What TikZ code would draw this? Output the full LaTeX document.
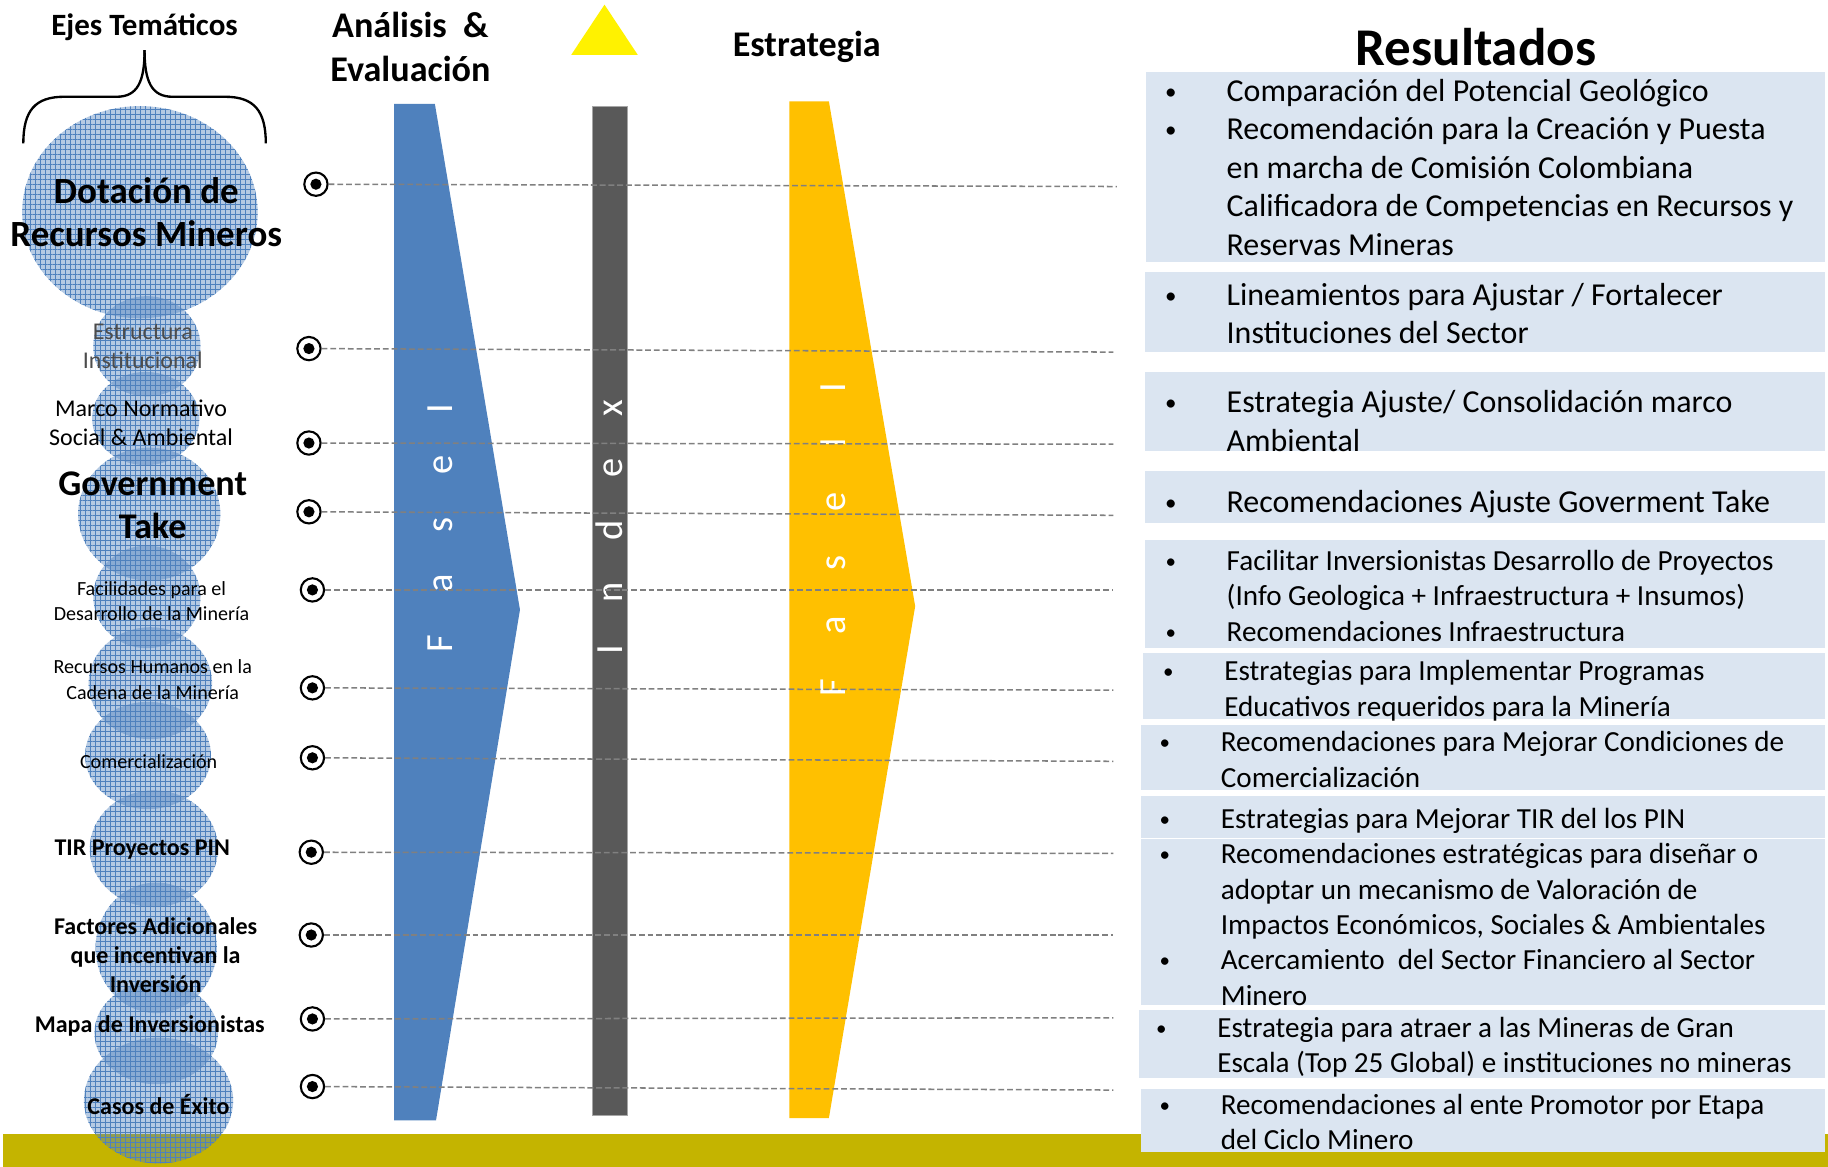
\documentclass[tikz,border=0pt]{standalone}
\usepackage{fontspec}
\setmainfont{Carlito}
\usetikzlibrary{patterns.meta}
\definecolor{cblue}{HTML}{4F81BD}
\definecolor{cgold}{HTML}{FFC000}
\definecolor{cdark}{HTML}{595959}
\definecolor{cbox}{HTML}{DBE5F1}
\definecolor{colive}{HTML}{C4B400}
\definecolor{cdash}{HTML}{808080}
\newcommand\fs[2]{\fontsize{#1}{#2}\selectfont}
\newcommand\bul{\makebox[0pt]{\raisebox{0.07em}{\scalebox{0.72}{•}}}}
\newcommand\restab[1]{\begin{tabular}[t]{@{}l@{\hspace{48pt}}l@{}}#1\end{tabular}}
\begin{document}
\begin{tikzpicture}[x=1pt,y=-1pt,
 bubble/.style={fill=cblue, fill opacity=0.42,
   postaction={pattern={Hatch[angle=0,distance=4.3pt,line width=0.5pt]}, pattern color=cblue, fill opacity=0.35}},
 lab/.style={inner sep=0pt, align=center, text=black},
 hdr/.style={inner sep=0pt, align=center, font=\bfseries},
 phase/.style={inner sep=0pt, text=white, rotate=90, font={\fs{33}{40}}},
 marker/.style={circle, draw=black, line width=1.8pt, fill=white, minimum size=20pt, inner sep=0pt,
   path picture={\fill[black] (path picture bounding box.center) circle[radius=4.8pt];}},
 dline/.style={draw=cdash, line width=1.3pt, dash pattern=on 5pt off 2.5pt},
 res/.style={anchor=base west, inner sep=0pt},
 rbox/.style={fill=cbox}
]
\useasboundingbox (0,0) rectangle (1568,1001);
\fill[white] (0,0) rectangle (1568,1001);
% bottom bar
\fill[colive] (3,973) rectangle (1568,1001);

% bubbles
\path[bubble] (120,182) ellipse [x radius=101, y radius=91];
\path[bubble] (126,297) ellipse [x radius=46, y radius=43];
\path[bubble] (125,359) ellipse [x radius=46, y radius=40];
\path[bubble] (128,441) ellipse [x radius=61, y radius=57];
\path[bubble] (126,512) ellipse [x radius=46, y radius=44];
\path[bubble] (129,586) ellipse [x radius=53, y radius=48];
\path[bubble] (127,648) ellipse [x radius=54, y radius=46];
\path[bubble] (132,728) ellipse [x radius=55, y radius=50];
\path[bubble] (134,813) ellipse [x radius=52, y radius=56];
\path[bubble] (134,886) ellipse [x radius=53, y radius=44];
\path[bubble] (136,944) ellipse [x radius=64, y radius=54];

% brace
\draw[line width=2pt] (20,123) .. controls (20,95) and (30,83) .. (55,83) -- (100,83) .. controls (118,83) and (124,70) .. (124,43);
\draw[line width=2pt] (228,123) .. controls (228,95) and (218,83) .. (193,83) -- (148,83) .. controls (130,83) and (124,70) .. (124,43);

% left labels
\node[lab, font={\bfseries\fs{26.6}{32}}] (ejes) at (124,23) {Ejes Temáticos};
\node[lab, font={\bfseries\fs{31.7}{37}}] (dot) at (125.5,182) {Dotación de\\Recursos Mineros};
\node[lab, text=black!70, font={\fs{20.6}{25}}] (estr) at (122.5,297) {Estructura\\Institucional};
\node[lab, font={\fs{20.6}{25}}] (marco) at (121,363) {Marco Normativo\\Social \& Ambiental};
\node[lab, font={\bfseries\fs{31}{37}}] (gov) at (131,433.5) {Government\\Take};
\node[lab, font={\fs{17.2}{21}}] (fac) at (130,515.5) {Facilidades para el\\Desarrollo de la Minería};
\node[lab, font={\fs{17.2}{22}}] (rh) at (131,583) {Recursos Humanos en la\\Cadena de la Minería};
\node[lab, font={\fs{17.2}{21}}] (com) at (127.5,653) {Comercialización};
\node[lab, font={\bfseries\fs{20.6}{25}}] (tir) at (122,729) {TIR Proyectos PIN};
\node[lab, font={\bfseries\fs{20.6}{25}}] (fact) at (133.5,819) {Factores Adicionales\\que incentivan la\\Inversión};
\node[lab, font={\bfseries\fs{20.6}{25}}] (mapa) at (128.5,880) {Mapa de Inversionistas};
\node[lab, font={\bfseries\fs{20.6}{25}}] (casos) at (136,947) {Casos de Éxito};

% headers
\node[hdr, font={\bfseries\fs{31}{38}}] (anal) at (352,40) {Análisis\ \ \&\\Evaluación};
\fill[yellow] (490,47) -- (547,47) -- (518.5,4) -- cycle;
\node[hdr, font={\bfseries\fs{31}{38}}] (estrat) at (692,40) {Estrategia};
\node[hdr, font={\bfseries\fs{45.5}{50}}] (resul) at (1266,40) {Resultados};

% phases
\fill[cblue] (338,89) -- (373,89) -- (446,523) -- (374,961) -- (338,961) -- cycle;
\fill[cgold] (677,87) -- (711,87) -- (785,520) -- (711,959) -- (677,959) -- cycle;
\filldraw[fill=cdark, draw=black!35, line width=1pt] (508,91) rectangle (538,957);
\node[phase] (f1) at (378,453) {\makebox[214pt][s]{F a s e I}};
\node[phase] (idx) at (523,452) {\makebox[218pt][s]{I n d e x}};
\node[phase] (f2) at (715,463) {\makebox[269pt][s]{F a s e I I}};

% markers and dashed lines
\foreach \i/\mx/\my/\ex/\ey in {1/271/158/958/160, 2/265/299/955/302, 3/265/380/955/381,
  4/265/439/955/442, 5/268/506/955/506, 6/268/590/955/592, 7/268/650/955/653,
  8/267/731/955/732, 9/267/802/955/802, 10/268/874/955/873, 11/268/932/955/935}{
  \node[marker] (m\i) at (\mx,\my) {};
  \coordinate (e\i) at (\ex,\ey);
  \draw[dline] (m\i) -- (e\i);
}

% result boxes
\fill[rbox] (983,62) rectangle (1565,225);
\fill[rbox] (982,233) rectangle (1565,302);
\fill[rbox] (982,319) rectangle (1565,387);
\fill[rbox] (982,404) rectangle (1565,449);
\fill[rbox] (982,463) rectangle (1565,556);
\fill[rbox] (980,560) rectangle (1565,617);
\fill[rbox] (979,622) rectangle (1565,678);
\fill[rbox] (979,683) rectangle (1565,719);
\fill[rbox] (979,720) rectangle (1565,862);
\fill[rbox] (977,866) rectangle (1565,925);
\fill[rbox] (979,934) rectangle (1565,988);

\node[res] (r1) at (1004,87) {\fs{27.4}{33}\restab{%
 \bul & Comparación del Potencial Geológico\\
 \bul & Recomendación para la Creación y Puesta\\
  & en marcha de Comisión Colombiana\\
  & Calificadora de Competencias en Recursos y\\
  & Reservas Mineras}};
\node[res] (r2) at (1004,262) {\fs{27.4}{33}\restab{%
 \bul & Lineamientos para Ajustar / Fortalecer\\
  & Instituciones del Sector}};
\node[res] (r3) at (1004,354) {\fs{27.4}{33}\restab{%
 \bul & Estrategia Ajuste/ Consolidación marco\\
  & Ambiental}};
\node[res] (r4) at (1004,440) {\fs{27.4}{33}\restab{%
 \bul & Recomendaciones Ajuste Goverment Take}};
\node[res] (r5) at (1004,489) {\fs{25}{30.5}\restab{%
 \bul & Facilitar Inversionistas Desarrollo de Proyectos\\
  & (Info Geologica + Infraestructura + Insumos)\\
 \bul & Recomendaciones Infraestructura}};
\node[res] (r6) at (1002,584) {\fs{25}{30.3}\restab{%
 \bul & Estrategias para Implementar Programas\\
  & Educativos requeridos para la Minería}};
\node[res] (r7) at (999,645) {\fs{25}{30.3}\restab{%
 \bul & Recomendaciones para Mejorar Condiciones de\\
  & Comercialización}};
\node[res] (r8) at (999,711) {\fs{25}{30.3}\restab{%
 \bul & Estrategias para Mejorar TIR del los PIN}};
\node[res] (r9) at (999,741) {\fs{25}{30.3}\restab{%
 \bul & Recomendaciones estratégicas para diseñar o\\
  & adoptar un mecanismo de Valoración de\\
  & Impactos Económicos, Sociales \& Ambientales\\
 \bul & Acercamiento\ \ del Sector Financiero al Sector\\
  & Minero}};
\node[res] (r10) at (996,890) {\fs{25}{30.3}\restab{%
 \bul & Estrategia para atraer a las Mineras de Gran\\
  & Escala (Top 25 Global) e instituciones no mineras}};
\node[res] (r11) at (999,956) {\fs{25}{30.3}\restab{%
 \bul & Recomendaciones al ente Promotor por Etapa\\
  & del Ciclo Minero}};
\end{tikzpicture}
\end{document}
